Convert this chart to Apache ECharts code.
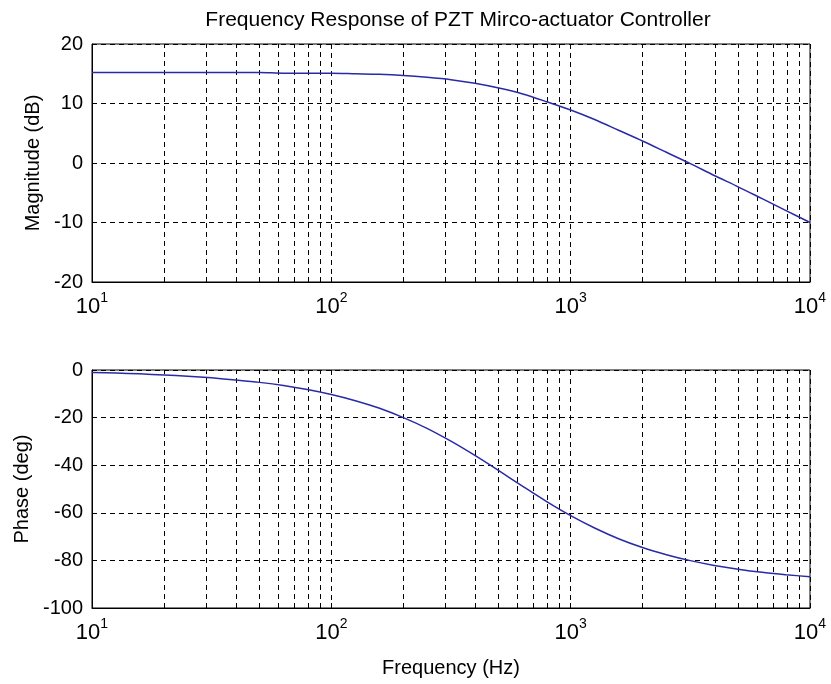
<!DOCTYPE html>
<html>
<head>
<meta charset="utf-8">
<script src="https://cdn.jsdelivr.net/npm/echarts@6/dist/echarts.min.js"></script>
<style>html,body{margin:0;padding:0;background:#fff;}#c{width:831px;height:684px;}</style>
</head>
<body>
<div id="c"></div>
<script>
const freqs = [10, 12.6, 15.8, 20, 25.1, 31.6, 39.8, 50.1, 63.1, 79.4, 100, 126, 158, 200, 251, 316, 398, 501, 631, 794, 1000, 1259, 1585, 1995, 2512, 3162, 3981, 5012, 6310, 7943, 10000];
// Magnitude (dB)
const magnitude = [15.2, 15.2, 15.2, 15.2, 15.2, 15.2, 15.2, 15.2, 15.1, 15.1, 15.1, 15.0, 14.9, 14.7, 14.4, 14.0, 13.4, 12.6, 11.6, 10.3, 8.9, 7.3, 5.5, 3.7, 1.8, -0.1, -2.1, -4.0, -6.0, -8.0, -10.0];
// Phase (deg)
const phase = [-1.0, -1.3, -1.6, -2.1, -2.6, -3.3, -4.2, -5.2, -6.5, -8.2, -10.3, -12.9, -16.0, -20.0, -24.5, -29.9, -35.9, -42.3, -48.9, -55.3, -61.2, -66.4, -70.9, -74.6, -77.6, -80.1, -82.1, -83.7, -85.0, -86.0, -86.9];
// Minor log grid positions
const minorGrid = [20,30,40,50,60,70,80,90,200,300,400,500,600,700,800,900,2000,3000,4000,5000,6000,7000,8000,9000];
// Tick labels: decade -> exponent
const decadeLabels = {10: '1', 100: '2', 1000: '3', 10000: '4'};
const magTicks = {min: -20, max: 20, interval: 10};
const phaseTicks = {min: -100, max: 0, interval: 20};

const FONT = 'Liberation Sans';
const dashed = {color: '#000', width: 1, type: [5, 4]};

function xAxisCfg(gridIndex, name) {
  return {
    type: 'log', logBase: 10, min: 10, max: 10000, gridIndex: gridIndex,
    name: name || '', nameLocation: 'middle', nameGap: 50,
    nameTextStyle: {fontFamily: FONT, fontSize: 20, color: '#000'},
    axisLine: {show: true, onZero: false, lineStyle: {color: '#000', width: 1}},
    axisTick: {show: true, inside: true, length: 5, lineStyle: {color: '#000'}},
    minorTick: {show: false},
    splitLine: {show: true, lineStyle: dashed},
    axisLabel: {
      margin: 9,
      formatter: function (v) { return '{b|10}{s|' + (decadeLabels[v] || '') + '}'; },
      rich: {
        b: {fontFamily: FONT, fontSize: 22, color: '#000'},
        s: {fontFamily: FONT, fontSize: 14, color: '#000', padding: [0, 0, 18, 0]}
      }
    }
  };
}
function yAxisCfg(gridIndex, ticks, name, gap) {
  return {
    type: 'value', gridIndex: gridIndex, min: ticks.min, max: ticks.max, interval: ticks.interval,
    name: name, nameLocation: 'middle', nameGap: gap,
    nameTextStyle: {fontFamily: FONT, fontSize: 20, color: '#000'},
    axisLine: {show: true, onZero: false, lineStyle: {color: '#000', width: 1}},
    axisTick: {show: true, inside: true, length: 5, lineStyle: {color: '#000'}},
    splitLine: {show: true, lineStyle: dashed},
    axisLabel: {fontFamily: FONT, fontSize: 20, color: '#000', margin: 9}
  };
}
function minorMark() {
  return {
    silent: true, symbol: 'none', label: {show: false},
    lineStyle: dashed,
    data: minorGrid.map(v => ({xAxis: v}))
  };
}

const chart = echarts.init(document.getElementById('c'));
chart.setOption({
  animation: false,
  backgroundColor: '#fff',
  title: {
    text: 'Frequency Response of PZT Mirco-actuator Controller',
    left: 453, top: 5, textAlign: 'center',
    textStyle: {fontFamily: FONT, fontSize: 21, fontWeight: 'normal', color: '#000'}
  },
  grid: [
    {left: 92, top: 44, width: 718, height: 238, show: true, borderColor: '#000', borderWidth: 1, backgroundColor: 'transparent'},
    {left: 92, top: 370, width: 718, height: 238, show: true, borderColor: '#000', borderWidth: 1, backgroundColor: 'transparent'}
  ],
  xAxis: [xAxisCfg(0), xAxisCfg(1, 'Frequency (Hz)')],
  yAxis: [yAxisCfg(0, magTicks, 'Magnitude (dB)', 47), yAxisCfg(1, phaseTicks, 'Phase (deg)', 59)],
  series: [
    {type: 'line', xAxisIndex: 0, yAxisIndex: 0, data: freqs.map((f, i) => [f, magnitude[i]]),
     smooth: 0.3, showSymbol: false, lineStyle: {color: '#2a2aa8', width: 1.5}, markLine: minorMark(), z: 5},
    {type: 'line', xAxisIndex: 1, yAxisIndex: 1, data: freqs.map((f, i) => [f, phase[i]]),
     smooth: 0.3, showSymbol: false, lineStyle: {color: '#2a2aa8', width: 1.5}, markLine: minorMark(), z: 5}
  ]
});
</script>
</body>
</html>
